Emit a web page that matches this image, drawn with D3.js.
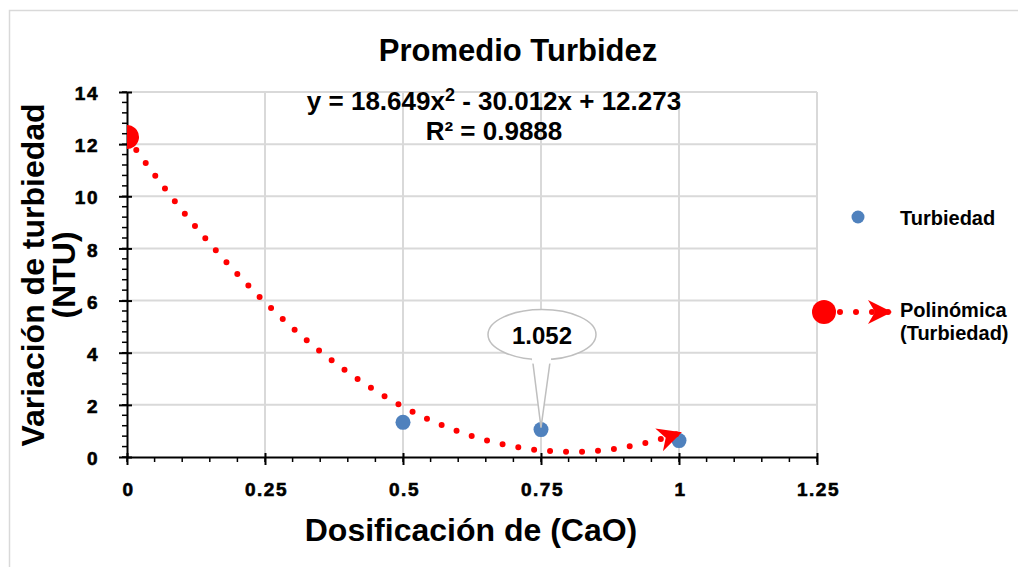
<!DOCTYPE html>
<html>
<head>
<meta charset="utf-8">
<script src="https://cdn.jsdelivr.net/npm/d3@7"></script>
<style>
  body { margin: 0; background: #fff; }
  text { font-family: "Liberation Sans", Arial, sans-serif; font-weight: bold; fill: #000; }
</style>
</head>
<body>
<svg id="chart" width="1018" height="567"></svg>
<script>
// data
var dosis = [0, 0.5, 0.75, 1];
var turbiedad = [12.37, 1.33, 1.052, 0.63];
var coef = [18.649, -30.012, 12.273]; // trendline y = a x^2 + b x + c
var xTicks = [0, 0.25, 0.5, 0.75, 1, 1.25];
var yTicks = [0, 2, 4, 6, 8, 10, 12, 14];
var etiqueta = "1.052";

var svg = d3.select("#chart");
var red = "#ff0000", blue = "#4f81bd", grid = "#d9d9d9";

// outer chart border
svg.append("rect").attr("x", 9.5).attr("y", 10.5).attr("width", 1030).attr("height", 600)
  .attr("fill", "#fff").attr("stroke", "#d9d9d9").attr("stroke-width", 1.5);

var x = d3.scaleLinear().domain([0, 1.25]).range([127, 817]);
var y = d3.scaleLinear().domain([0, 14]).range([457, 92]);

// gridlines
svg.append("g").selectAll("line").data(xTicks.slice(1)).join("line")
  .attr("x1", d => x(d)).attr("x2", d => x(d)).attr("y1", y(0)).attr("y2", y(14))
  .attr("stroke", grid).attr("stroke-width", 2);
svg.append("g").selectAll("line").data(yTicks.slice(1)).join("line")
  .attr("x1", x(0)).attr("x2", x(1.25)).attr("y1", d => y(d)).attr("y2", d => y(d))
  .attr("stroke", grid).attr("stroke-width", 2);

// minor ticks
var minorX = d3.range(0, 1.2501, 0.05);
svg.append("g").selectAll("line").data(minorX).join("line")
  .attr("x1", d => x(d)).attr("x2", d => x(d)).attr("y1", y(0)).attr("y2", y(0) + 5)
  .attr("stroke", "#000").attr("stroke-width", 1.5);
var minorY = d3.range(0, 14.001, 0.4);
svg.append("g").selectAll("line").data(minorY).join("line")
  .attr("x1", x(0) - 5).attr("x2", x(0)).attr("y1", d => y(d)).attr("y2", d => y(d))
  .attr("stroke", "#000").attr("stroke-width", 1.5);

function styleTicks(sel) {
  sel.selectAll(".tick text")
    .style("font-family", "'Liberation Sans', Arial, sans-serif")
    .style("font-size", "19px").style("font-weight", "bold")
    .style("letter-spacing", "1.5px")
    .attr("stroke", "#000").attr("stroke-width", 0.6);
}

// axes
var xAxis = svg.append("g").attr("transform", "translate(0," + y(0) + ")")
  .call(d3.axisBottom(x).tickValues(xTicks).tickFormat(d3.format("")).tickSizeInner(8).tickSizeOuter(0).tickPadding(18));
xAxis.select(".domain").attr("stroke-width", 2);
xAxis.selectAll(".tick line").attr("stroke-width", 2).attr("y1", -4);
xAxis.selectAll(".tick text").attr("dx", 1);
styleTicks(xAxis);

var yAxis = svg.append("g").attr("transform", "translate(" + x(0) + ",0)")
  .call(d3.axisLeft(y).tickValues(yTicks).tickSizeInner(8).tickSizeOuter(0).tickPadding(20));
yAxis.select(".domain").attr("stroke-width", 2);
yAxis.selectAll(".tick line").attr("stroke-width", 2).attr("x1", 5);
yAxis.selectAll(".tick text").attr("dy", "0.4em");
styleTicks(yAxis);

// markers for the trendline
var defs = svg.append("defs");
defs.append("clipPath").attr("id", "plotClip").append("rect")
  .attr("x", x(0)).attr("y", y(14)).attr("width", x(1.25) - x(0)).attr("height", y(0) - y(14));
defs.append("marker").attr("id", "oval").attr("markerUnits", "userSpaceOnUse")
  .attr("viewBox", "-13 -13 26 26").attr("markerWidth", 26).attr("markerHeight", 26)
  .attr("refX", 0).attr("refY", 0).attr("orient", "auto")
  .append("circle").attr("r", 12).attr("fill", red);
defs.append("marker").attr("id", "arrow").attr("markerUnits", "userSpaceOnUse")
  .attr("viewBox", "-25 -13 28 26").attr("markerWidth", 28).attr("markerHeight", 26)
  .attr("refX", -3).attr("refY", 0).attr("orient", "auto")
  .append("path").attr("d", "M0,0 L-24,-12 L-17,0 L-24,12 Z").attr("fill", red);

// trendline from the displayed equation
var xs = d3.range(0, 1.0001, 0.01);
var trend = xs.map(function(v) { return { x: v, y: coef[0] * v * v + coef[1] * v + coef[2] }; });
var line = d3.line().x(d => x(d.x)).y(d => y(d.y)).curve(d3.curveLinear);

var plot = svg.append("g").attr("clip-path", "url(#plotClip)");

// data points
plot.selectAll("circle.pt").data(dosis).join("circle").attr("class", "pt")
  .attr("cx", d => x(d)).attr("cy", (d, i) => y(turbiedad[i])).attr("r", 7.5).attr("fill", blue);

plot.append("path").attr("d", line(trend))
  .attr("fill", "none").attr("stroke", red).attr("stroke-width", 6)
  .attr("stroke-linecap", "round").attr("stroke-dasharray", "0 16")
  .attr("marker-start", "url(#oval)").attr("marker-end", "url(#arrow)");

// callout for the 0.75 point
var cx = x(0.75) + 1, cy = y(1.052);
var callout = svg.append("g");
callout.append("path")
  .attr("d", "M" + (cx - 11) + "," + (cy - 82) + " L" + (cx - 1) + "," + (cy - 2) + " L" + (cx + 10) + "," + (cy - 82))
  .attr("fill", "#fff").attr("stroke", "#bfbfbf").attr("stroke-width", 1.5);
callout.append("ellipse").attr("cx", cx).attr("cy", cy - 95).attr("rx", 54).attr("ry", 25)
  .attr("fill", "#fff").attr("stroke", "#bfbfbf").attr("stroke-width", 1.5);
callout.append("rect").attr("x", cx - 10).attr("y", cy - 74).attr("width", 19).attr("height", 8).attr("fill", "#fff");
callout.append("text").attr("x", cx).attr("y", cy - 86).attr("text-anchor", "middle")
  .style("font-size", "24px").text(etiqueta);

// titles
svg.append("text").attr("x", 518).attr("y", 61).attr("text-anchor", "middle")
  .style("font-size", "31px").text("Promedio Turbidez");
var eq = svg.append("text").attr("x", 494).attr("y", 110).attr("text-anchor", "middle").style("font-size", "26px");
eq.append("tspan").text("y = 18.649x");
eq.append("tspan").attr("dy", -9).style("font-size", "18px").text("2");
eq.append("tspan").attr("dy", 9).text(" - 30.012x + 12.273");
svg.append("text").attr("x", 494).attr("y", 140).attr("text-anchor", "middle")
  .style("font-size", "26px").text("R² = 0.9888");

svg.append("text").attr("x", 471).attr("y", 541).attr("text-anchor", "middle")
  .style("font-size", "32px").text("Dosificación de (CaO)");
var yt = svg.append("text").attr("transform", "translate(44,275) rotate(-90)").attr("text-anchor", "middle")
  .style("font-size", "32px");
yt.append("tspan").attr("x", 0).attr("y", 0).text("Variación de turbiedad");
yt.append("tspan").attr("x", 0).attr("y", 31).text("(NTU)");

// legend
svg.append("circle").attr("cx", 858).attr("cy", 217).attr("r", 6.5).attr("fill", blue);
svg.append("text").attr("x", 900).attr("y", 225).style("font-size", "20px").text("Turbiedad");
svg.append("path").attr("d", "M824,312 L889,312")
  .attr("fill", "none").attr("stroke", red).attr("stroke-width", 6)
  .attr("stroke-linecap", "round").attr("stroke-dasharray", "0 16")
  .attr("marker-start", "url(#oval)").attr("marker-end", "url(#arrow)");
svg.append("text").attr("x", 900).attr("y", 317).style("font-size", "20px").text("Polinómica");
svg.append("text").attr("x", 900).attr("y", 340).style("font-size", "20px").text("(Turbiedad)");
</script>
</body>
</html>
